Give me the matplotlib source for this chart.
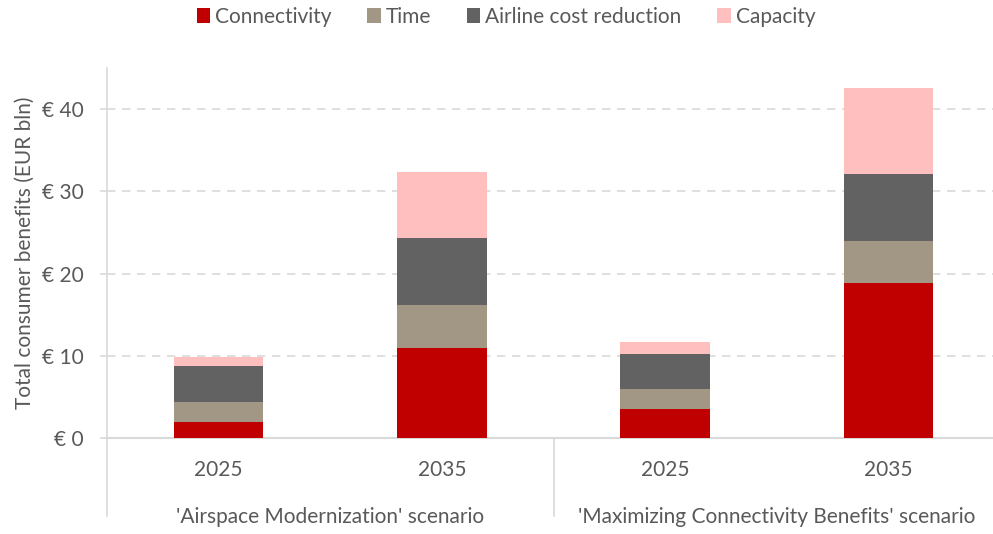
import numpy as np
import matplotlib.pyplot as plt

plt.rcParams['font.family'] = ['Lato', 'DejaVu Sans']

# Data (EUR bln)
years = ['2025', '2035', '2025', '2035']
scenarios = ["'Airspace Modernization' scenario",
             "'Maximizing Connectivity Benefits' scenario"]
connectivity = [2.0, 11.0, 3.5, 18.9]
time_ben = [2.4, 5.2, 2.5, 5.0]
airline = [4.3, 8.1, 4.2, 8.2]
capacity = [1.2, 8.1, 1.5, 10.5]

series = [('Connectivity', connectivity, '#c00000'),
          ('Time', time_ben, '#a19784'),
          ('Airline cost reduction', airline, '#626262'),
          ('Capacity', capacity, '#ffbfbf')]

txt = '#595959'
grid_c = '#d9d9d9'
fs = 15

fig = plt.figure(figsize=(9.93, 5.34), dpi=100)
ax = fig.add_axes([107/993, 1 - 438/534, (1000-107)/993, (438-68)/534])

x = np.arange(len(years))
bottom = np.zeros(len(years))
for name, vals, col in series:
    ax.bar(x, vals, 0.4, bottom=bottom, color=col, label=name, zorder=3)
    bottom += np.array(vals)

ax.set_xlim(-0.5, 3.5)
ax.set_ylim(0, 45)
ax.set_yticks([0, 10, 20, 30, 40])
ax.set_yticklabels(['€ %d' % v for v in [0, 10, 20, 30, 40]])
ax.yaxis.grid(True, color=grid_c, linestyle=(0, (5, 4)), linewidth=1.2, zorder=0)
ax.tick_params(axis='y', colors=txt, labelsize=fs, length=5, color=grid_c, width=1.2, pad=12)
ax.tick_params(axis='x', length=0)
ax.set_xticks([])

for s in ['top', 'right']:
    ax.spines[s].set_visible(False)
ax.spines['left'].set_color(grid_c)
ax.spines['left'].set_linewidth(1.2)
ax.spines['bottom'].set_color(grid_c)
ax.spines['bottom'].set_linewidth(1.5)

ax.set_ylabel('Total consumer benefits (EUR bln)', color=txt, fontsize=fs, labelpad=5)

# category labels below the axis
for xi, yr in zip(x, years):
    ax.annotate(yr, (xi, 0), xytext=(0, -23), textcoords='offset points',
                ha='center', va='center', color=txt, fontsize=fs, annotation_clip=False)
for i, sc in enumerate(scenarios):
    ax.annotate(sc, (2 * i + 0.5, 0), xytext=(0, -57), textcoords='offset points',
                ha='center', va='center', color=txt, fontsize=fs, annotation_clip=False)

# group separators extending below the axis
for xs in [-0.5, 1.5]:
    ax.plot([xs, xs], [0, -9.5], color=grid_c, linewidth=1.2, clip_on=False)

leg = fig.legend(loc='center', bbox_to_anchor=(506/993, 1 - 17/534), ncol=4,
                 frameon=False, fontsize=fs, handlelength=0.65, handleheight=0.7,
                 handletextpad=0.25, columnspacing=1.7)
for t in leg.get_texts():
    t.set_color(txt)

fig.savefig('out.png', dpi=100)
